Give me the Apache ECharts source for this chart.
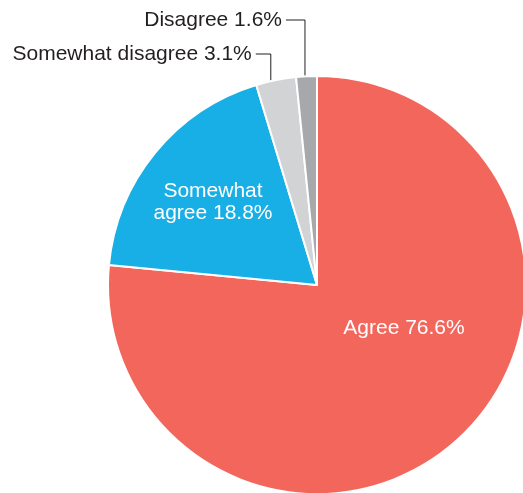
<!DOCTYPE html>
<html><head><meta charset="utf-8">
<script src="https://cdn.jsdelivr.net/npm/echarts@6/dist/echarts.min.js"></script>
<style>html,body{margin:0;padding:0;background:#fff}#c{width:523px;height:493px}</style>
</head><body><div id="c"></div>
<script>
const categories = ['Agree', 'Somewhat agree', 'Somewhat disagree', 'Disagree'];
const labelNames = ['Agree', 'Somewhat\nagree', 'Somewhat disagree', 'Disagree'];
const values = [76.6, 18.8, 3.1, 1.6];
const colors = ['#F2665C', '#17AFE5', '#D1D3D4', '#A6A8AB'];

const CX = 317, CY = 285, R = 209;
// label placement (offsets from pie centre / leader geometry)
const inside = { 0: [87, 43], 1: [-104, -83] };
const outsideY = { 2: 54, 3: 20 };
const outsideGap = { 2: 15, 3: 19 };
const xShift = { 2: -7, 3: -2 };

const chart = echarts.init(document.getElementById('c'));
chart.setOption({
  animation: false,
  series: [{
    type: 'pie',
    center: [CX, CY],
    radius: [0, R],
    startAngle: 90,
    clockwise: true,
    avoidLabelOverlap: false,
    itemStyle: { borderColor: '#fff', borderWidth: 2 },
    label: {
      fontFamily: 'Liberation Sans, Arial, sans-serif',
      fontSize: 21,
      lineHeight: 22,
      formatter: p => labelNames[p.dataIndex] + ' ' + p.value.toFixed(1) + '%'
    },
    labelLine: { show: true, lineStyle: { color: '#231f20', width: 1 } },
    data: categories.map((c, i) => ({
      name: c,
      value: values[i],
      itemStyle: { color: colors[i] },
      label: i < 2 ? { position: 'inside', color: '#fff', align: 'center' } : { position: 'outside', color: '#231f20' },
      labelLine: { show: i >= 2 }
    })),
    labelLayout: function (p) {
      const i = p.dataIndex;
      if (i < 2) {
        return { x: CX + inside[i][0], y: CY + inside[i][1], align: 'center', verticalAlign: 'middle' };
      }
      let acc = 0;
      for (let k = 0; k < i; k++) acc += values[k];
      const total = values.reduce((s, v) => s + v, 0);
      const mid = (acc + values[i] / 2) / total * 360;
      const rr = R * 0.955;
      const sx = CX + rr * Math.sin(mid * Math.PI / 180) + xShift[i];
      const sy = CY - rr * Math.cos(mid * Math.PI / 180);
      const ly = outsideY[i];
      const ex = sx - outsideGap[i];
      return {
        x: ex - 4, y: ly, align: 'right', verticalAlign: 'middle',
        labelLinePoints: [[sx, sy], [sx, ly], [ex, ly]]
      };
    }
  }]
});
</script></body></html>
